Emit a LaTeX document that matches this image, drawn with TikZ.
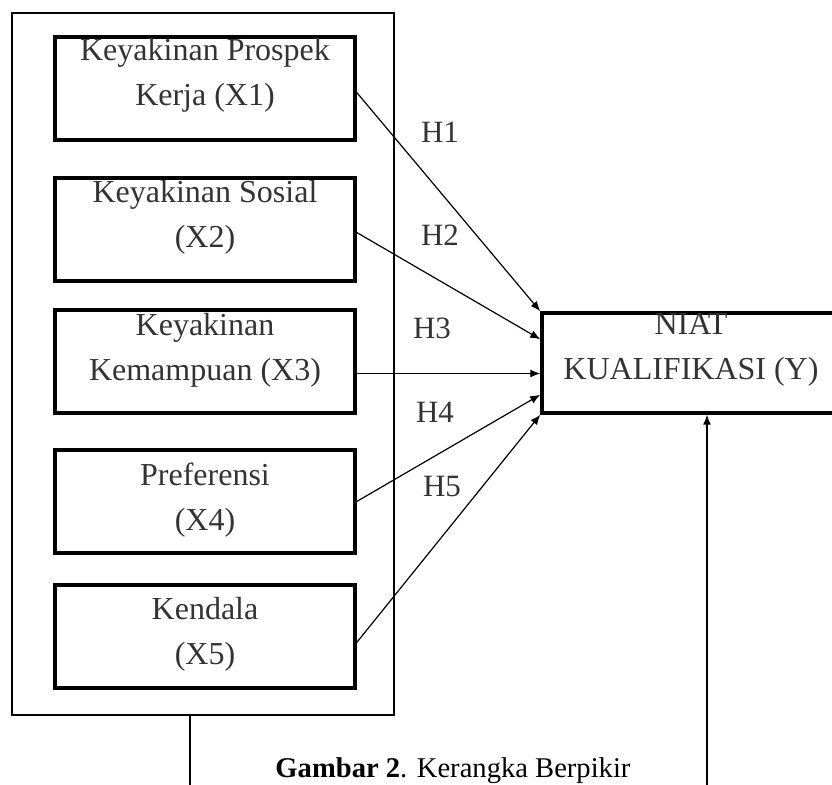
\documentclass[tikz,border=0pt]{standalone}
\usepackage{fontspec}
\setmainfont{Liberation Serif}
\usepackage{tikz}
\usetikzlibrary{positioning,arrows.meta}

\tikzset{
  varbox/.style={draw, line width=1.75pt, minimum width=150pt, minimum height=51.5pt, inner sep=0pt},
  outerbox/.style={draw, line width=0.75pt, minimum width=191pt, minimum height=351pt, inner sep=0pt},
  boxtext/.style={align=center, text=black!80, font=\fontsize{16}{22.5}\selectfont, inner sep=0pt},
  hlabel/.style={text=black!80, font=\fontsize{15.5}{18}\selectfont, inner sep=0pt},
  arr/.style={-{Latex[length=5pt,width=4pt]}, line width=0.6pt},
  link/.style={line width=0.6pt}
}

\begin{document}
\begin{tikzpicture}[x=0.5pt,y=-0.5pt]
\clip (0,0) rectangle (832,785);

% kotak luar
	\node[outerbox] (grp) at (203,364) {};

% variabel X
	\node[varbox] (x1) at (205,88.5) {};
	\node[varbox] (x2) at (205,229.5) {};
	\node[varbox] (x3) at (205,361.5) {};
	\node[varbox] (x4) at (205,501.5) {};
	\node[varbox] (x5) at (205,636.5) {};

	\node[boxtext] (t1) at (205,75.5) {Keyakinan Prospek\\Kerja (X1)};
	\node[boxtext] (t2) at (205,217.5) {Keyakinan Sosial\\(X2)};
	\node[boxtext] (t3) at (205,350) {Keyakinan\\Kemampuan (X3)};
	\node[boxtext] (t4) at (205,500) {Preferensi\\(X4)};
	\node[boxtext] (t5) at (205,634.5) {Kendala\\(X5)};

% variabel Y
	\node[varbox, minimum width=149pt, minimum height=50pt] (y) at (691,363) {};
	\node[boxtext] (ty) at (691,350) {NIAT\\KUALIFIKASI (Y)};

% hipotesis
	\node[hlabel] (h1) at (440,132) {H1};
	\node[hlabel] (h2) at (440,235) {H2};
	\node[hlabel] (h3) at (432,328) {H3};
	\node[hlabel] (h4) at (435,412) {H4};
	\node[hlabel] (h5) at (442,487) {H5};

	\draw[arr] ([yshift=-2pt]x1.east) -- (y.north west);
	\draw[arr] ([yshift=-1.5pt]x2.east) -- ([yshift=-14pt]y.north west);
	\draw[arr] ([yshift=-6pt]x3.east) -- ([yshift=-6pt]x3.east -| y.west);
	\draw[arr] (x4.east) -- ([yshift=10pt]y.south west);
	\draw[arr] ([yshift=-3pt]x5.east) -- (y.south west);

% garis bawah
	\coordinate (bl) at (190,785);
	\coordinate (br) at (707,785);
	\draw[link] (grp.south -| bl) -- (bl);
	\draw[arr] (br) -- (br |- y.south);

	\node[font=\fontsize{14.3}{16}\selectfont, inner sep=0pt] (cap) at (453,771) {\textbf{Gambar 2}. Kerangka Berpikir};
\end{tikzpicture}
\end{document}
